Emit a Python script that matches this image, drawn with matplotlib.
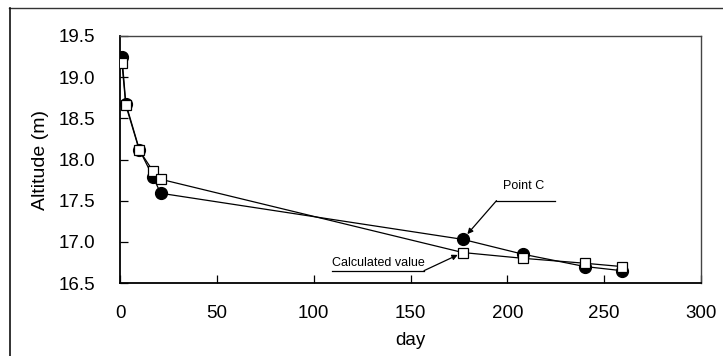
import matplotlib
matplotlib.use("Agg")
import matplotlib.pyplot as plt
from matplotlib.lines import Line2D

plt.rcParams['font.family'] = ['Liberation Sans', 'DejaVu Sans']

# Elapsed days and altitudes
days = [1, 3, 10, 17, 21, 177, 208, 240, 259]
observed = [19.25, 18.68, 18.12, 17.79, 17.59, 17.03, 16.85, 16.70, 16.65]
calculated = [19.17, 18.66, 18.11, 17.86, 17.76, 16.87, 16.80, 16.74, 16.70]

x_ticks = [0, 50, 100, 150, 200, 250, 300]
y_ticks = [16.5, 17.0, 17.5, 18.0, 18.5, 19.0, 19.5]

point_c_index = 5

fig = plt.figure(figsize=(7.23, 3.56), dpi=100)
ax = fig.add_axes([120 / 723, 1 - 283 / 356, 581 / 723, 247 / 356])

ax.plot(days, observed, color='black', lw=0.9, marker='o', ms=8.5,
        mfc='black', mec='black', zorder=3)
ax.plot(days, calculated, color='black', lw=0.9, marker='s', ms=7.5,
        mfc='white', mec='black', mew=0.9, zorder=4)

ax.set_xlim(0, 300)
ax.set_ylim(16.5, 19.5)
ax.set_xticks(x_ticks)
ax.set_yticks(y_ticks)
ax.set_yticklabels([f"{v:.1f}" for v in y_ticks])
ax.tick_params(axis='x', direction='in', length=6, width=0.9, pad=16, labelsize=13.5)
ax.tick_params(axis='y', direction='in', length=6, width=0.9, pad=18, labelsize=13.5)
for side in ['left', 'bottom']:
    ax.spines[side].set_linewidth(1.3)
    ax.spines[side].set_color('black')
for side in ['top', 'right']:
    ax.spines[side].set_linewidth(1.0)
    ax.spines[side].set_color('#444444')

ax.set_xlabel('day', fontsize=13.5, labelpad=7)
ax.set_ylabel('Altitude (m)', fontsize=14)
ax.yaxis.set_label_coords(-71 / 581, 0.5)

# Callout for the observed point C
ax.plot([194.4, 224.5], [17.5, 17.5], color='black', lw=0.9, clip_on=False)
ax.annotate('', xy=(days[point_c_index], observed[point_c_index]),
            xytext=(194.4, 17.5),
            arrowprops=dict(arrowstyle='-|>', color='black', lw=0.9,
                            mutation_scale=8, shrinkA=0, shrinkB=5))
ax.text(208.6, 17.68, 'Point C', fontsize=9, ha='center', va='center')

# Callout for the calculated value
ax.plot([109.4, 157.0], [16.65, 16.65], color='black', lw=0.9, clip_on=False)
ax.annotate('', xy=(days[point_c_index], calculated[point_c_index]),
            xytext=(157.0, 16.65),
            arrowprops=dict(arrowstyle='-|>', color='black', lw=0.9,
                            mutation_scale=8, shrinkA=0, shrinkB=4))
ax.text(133.2, 16.745, 'Calculated value', fontsize=9, ha='center', va='center')

# Outer frame of the chart area
fig.add_artist(Line2D([9 / 723, 1.0], [1 - 7.5 / 356, 1 - 7.5 / 356],
                      transform=fig.transFigure, color='#333333', lw=1.0))
fig.add_artist(Line2D([9.5 / 723, 9.5 / 723], [0.0, 1 - 7.5 / 356],
                      transform=fig.transFigure, color='#111111', lw=1.2))

fig.savefig('out.png', dpi=100)
